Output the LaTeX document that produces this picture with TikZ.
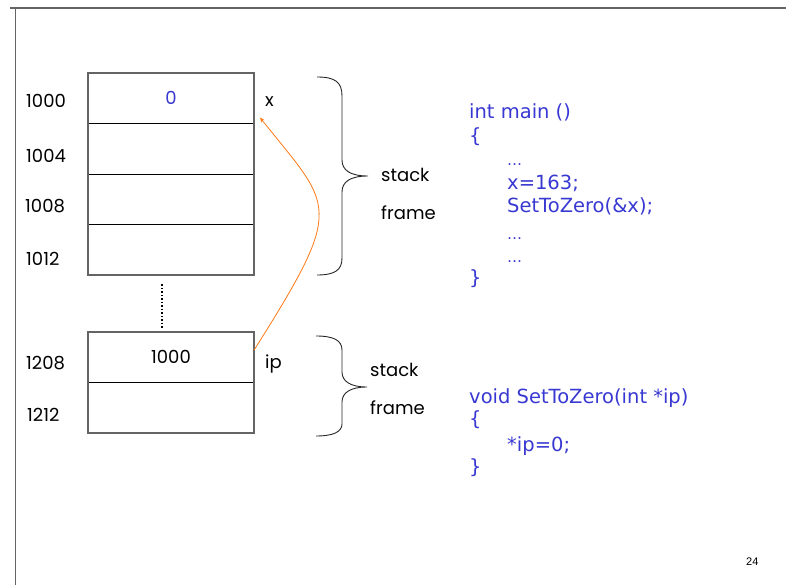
\documentclass[tikz,border=0pt]{standalone}
\usepackage{fontspec}
\setmainfont{DejaVu Sans}
\newfontfamily\labelfont{Poppins}
\newfontfamily\pagefont{Liberation Sans}
\usetikzlibrary{arrows.meta,calc}
\definecolor{codeblue}{RGB}{56,56,210}
\definecolor{ptrorange}{RGB}{255,120,20}
\definecolor{framegray}{RGB}{100,100,100}
\tikzset{
  cell/.style={draw=black, line width=0.7pt, minimum width=166pt, minimum height=50.5pt,
    inner sep=0pt, outer sep=0pt, font=\labelfont\fontsize{18}{20}\selectfont},
  addr/.style={anchor=west, inner sep=0pt, font=\labelfont\fontsize{18}{20}\selectfont},
  lbl/.style={anchor=west, inner sep=0pt, font=\labelfont\fontsize{18}{20}\selectfont},
  code/.style={anchor=base west, inner sep=0pt, text=codeblue, font=\fontsize{19.5}{21}\selectfont},
  brace/.style={draw=black!85, line width=0.9pt},
  outline/.style={draw=framegray, line width=1.1pt},
}
\newcommand{\codedots}{{\fontsize{15}{16}\selectfont …}}
\begin{document}
\begin{tikzpicture}[x=1pt,y=-1pt]
\useasboundingbox (0,0) rectangle (786,585);
% page frame
\draw[draw=framegray, line width=2pt] (10,8) -- (786,8);
\draw[draw=framegray, line width=1.6pt] (15.5,7) -- (15.5,585);

% stack frame of main
\node[cell, text=codeblue] (c1) at (171,98.25) {0};
\node[cell, anchor=north] (c2) at (c1.south) {};
\node[cell, anchor=north] (c3) at (c2.south) {};
\node[cell, anchor=north] (c4) at (c3.south) {};
\draw[outline] (c1.north west) rectangle (c4.south east);

% stack frame of SetToZero
\node[cell] (b1) at (171,357.25) {1000};
\node[cell, anchor=north] (b2) at (b1.south) {};
\draw[outline] (b1.north west) rectangle (b2.south east);

% gap between the frames
\coordinate (gapTop) at ($(c4.south)+(-9,9)$);
\coordinate (gapBot) at ($(b1.north)+(-9,-4)$);
\draw[line width=1.6pt, dash pattern=on 1.6pt off 1.9pt] (gapTop) -- (gapBot);

% addresses
\node[addr] (a1000) at (26,101) {1000};
\node[addr] (a1004) at (26,156) {1004};
\node[addr] (a1008) at (25,206) {1008};
\node[addr] (a1012) at (26,259) {1012};
\node[addr] (a1208) at (26,363) {1208};
\node[addr] (a1212) at (27,415) {1212};

% variable names
\node[lbl] (vx) at (265,102) {x};
\node[lbl] (vip) at (265,364) {ip};

% braces and their labels
\node[lbl] (stk1) at (381,175) {stack};
\node[lbl] (frm1) at (381,213) {frame};
\draw[brace] (317,77) .. controls (335,77) and (342,82) .. (342,96) -- (342,160)
  .. controls (342,170) and (350,176) .. (368,176)
  .. controls (350,176) and (342,182) .. (342,192) -- (342,258)
  .. controls (342,270) and (335,275) .. (317,275);
\node[lbl] (stk2) at (370,370) {stack};
\node[lbl] (frm2) at (370,408) {frame};
\draw[brace] (316,336) .. controls (333,336) and (342,340) .. (342,350) -- (342,372)
  .. controls (342,381) and (350,387) .. (367,387)
  .. controls (350,387) and (342,393) .. (342,402) -- (342,424)
  .. controls (342,432) and (333,436) .. (316,436);

% pointer from ip to x
\coordinate (ipOut) at ($(b1.north east)!0.36!(b1.south east)$);
\coordinate (xIn) at ($(c1.south east)+(6,-6)$);
\draw[ptrorange, line width=0.8pt, -{Stealth[length=5pt,width=4pt]}]
  (ipOut) .. controls (346.7,203.4) and (332.3,208.6) .. (xIn);

% source code
\node[code] (m1) at (469,119) {int main ()};
\node[code] (m2) at (469,143) {\{};
\node[code] (m3) at (507,166) {\codedots};
\node[code] (m4) at (507,190) {x=163;};
\node[code] (m5) at (507,213) {SetToZero(\&x);};
\node[code] (m6) at (507,240) {\codedots};
\node[code] (m7) at (507,262) {\codedots};
\node[code] (m8) at (469,284) {\}};

\node[code] (s1) at (469,403) {void SetToZero(int *ip)};
\node[code] (s2) at (469,425) {\{};
\node[code] (s3) at (507,451) {*ip=0;};
\node[code] (s4) at (469,473) {\}};

% page number
\node[anchor=base west, inner sep=0pt, font=\pagefont\fontsize{11}{12}\selectfont] (pg) at (746,565) {24};
\end{tikzpicture}
\end{document}
